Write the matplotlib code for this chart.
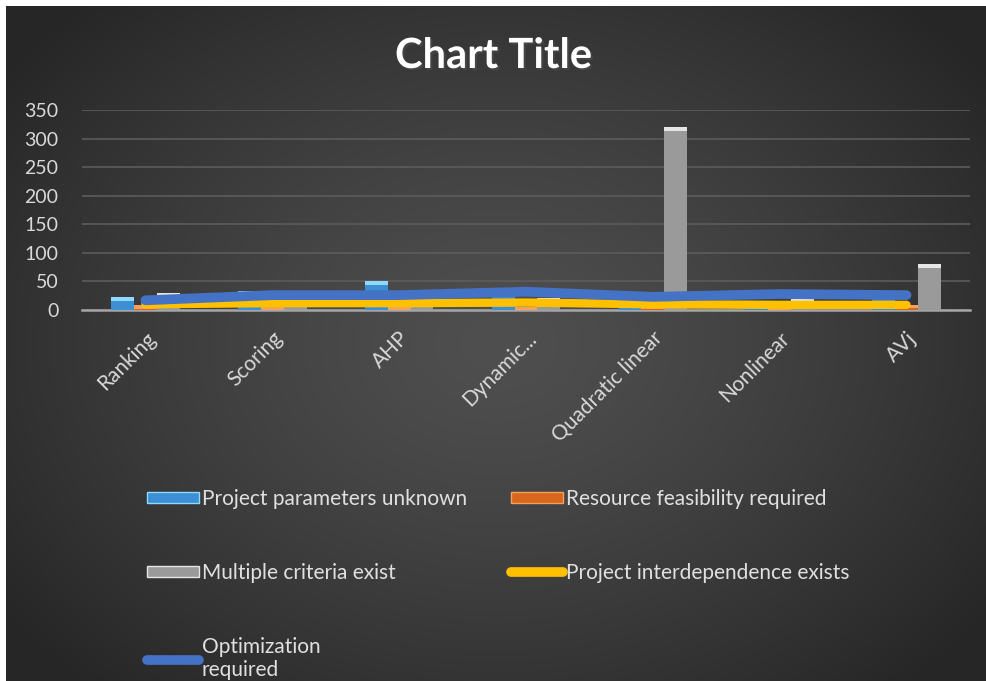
import numpy as np
import matplotlib.pyplot as plt
from matplotlib.lines import Line2D
from matplotlib.patches import Patch
import matplotlib.patheffects as pe

plt.rcParams['font.family'] = ['Lato', 'DejaVu Sans']

# --- DATA ---
categories = ['Ranking', 'Scoring', 'AHP', 'Dynamic...', 'Quadratic linear', 'Nonlinear', 'AVj']
params_unknown = [22, 33, 50, 38, 18, 16, 27]
resource_feasibility = [8, 6, 5, 6, 7, 5, 9]
multiple_criteria = [29, 30, 32, 21, 320, 19, 80]
interdependence = [10, 12, 12, 13, 10, 9, 9]
optimization = [17, 26, 26, 32, 23, 28, 26]
yticks = [0, 50, 100, 150, 200, 250, 300, 350]

W, H = 987, 681
fig = plt.figure(figsize=(W / 100, H / 100), dpi=100)
fig.patch.set_facecolor('white')

# --- background (radial gradient, white strip top/left) ---
bg = fig.add_axes([6 / W, 0, 1 - 6 / W, 1 - 6 / H], zorder=0)
gx, gy = np.meshgrid(np.linspace(-1, 1, 400), np.linspace(-1, 1, 300))
r = np.sqrt((gx / 1.0) ** 2 + (gy / 1.1) ** 2)
r = np.clip(r, 0, 1.25) / 1.25
shade = 0.31 - 0.16 * r ** 1.3
bg.imshow(np.dstack([shade] * 3), aspect='auto', extent=[0, 1, 0, 1])
bg.axis('off')

# --- main axes ---
ax = fig.add_axes([82 / W, 1 - 310 / H, 888 / W, 200 / H], zorder=1)
ax.patch.set_alpha(0)
x = np.arange(len(categories))
bw = 0.18

def draw_bars(offset, vals, color, light):
    ax.bar(x + offset, vals, width=bw, color=color, zorder=2)
    cap = [min(v, 6) for v in vals]
    ax.bar(x + offset, cap, width=bw, bottom=[v - c for v, c in zip(vals, cap)],
           color=light, zorder=2.5)

draw_bars(-bw, params_unknown, '#3b8fd2', '#8fd8ff')
draw_bars(0, resource_feasibility, '#d9661c', '#f4a060')
draw_bars(bw, multiple_criteria, '#9a9a9a', '#e6e6e6')

ax.plot(x, interdependence, color='#ffc000', lw=6, solid_capstyle='round', zorder=3)
ax.plot(x, optimization, color='#4472c4', lw=7, solid_capstyle='round', zorder=4)

ax.set_xlim(-0.5, len(categories) - 0.5)
ax.set_ylim(0, 350)
ax.set_yticks(yticks)
ax.set_yticklabels([str(v) for v in yticks], color='#d9d9d9', fontsize=14)
ax.set_xticks(x)
ax.set_xticklabels(categories, rotation=45, ha='right', rotation_mode='anchor',
                   color='#d9d9d9', fontsize=15)
ax.tick_params(length=0, axis='x', pad=13)
ax.tick_params(length=0, axis='y', pad=17)
ax.grid(axis='y', color='#5c5c5c', lw=1.2, zorder=1)
ax.set_axisbelow(True)
for s in ['top', 'right', 'left']:
    ax.spines[s].set_visible(False)
ax.spines['bottom'].set_color('#a6a6a6')
ax.spines['bottom'].set_linewidth(1.8)
ax.spines['bottom'].set_zorder(1.5)

# --- title ---
fig.text(0.5, 1 - 56 / H, 'Chart Title', ha='center', va='center', color='white',
         fontsize=30, fontweight='bold',
         path_effects=[pe.withSimplePatchShadow(offset=(1.5, -1.5), alpha=0.6)])

# --- legend (row-wise order via column-wise fill) ---
h_pu = Patch(facecolor='#3b8fd2', edgecolor='#8fd8ff')
h_rf = Patch(facecolor='#d9661c', edgecolor='#f4a060')
h_mc = Patch(facecolor='#9a9a9a', edgecolor='#e6e6e6')
h_in = Line2D([], [], color='#ffc000', lw=7, solid_capstyle='round')
h_op = Line2D([], [], color='#4472c4', lw=7, solid_capstyle='round')
handles = [h_pu, h_mc, h_op, h_rf, h_in]
labels = ['Project parameters unknown', 'Multiple criteria exist', 'Optimization\nrequired',
          'Resource feasibility required', 'Project interdependence exists']
leg = fig.legend(handles, labels, ncol=2, loc='upper left',
                 bbox_to_anchor=(128 / W, 1 - 470 / H), frameon=False,
                 fontsize=15, labelcolor='#e0e0e0', handlelength=2.5,
                 handleheight=0.45, handletextpad=0.15, columnspacing=2.1,
                 labelspacing=2.6)

fig.savefig('out.png', dpi=100)
